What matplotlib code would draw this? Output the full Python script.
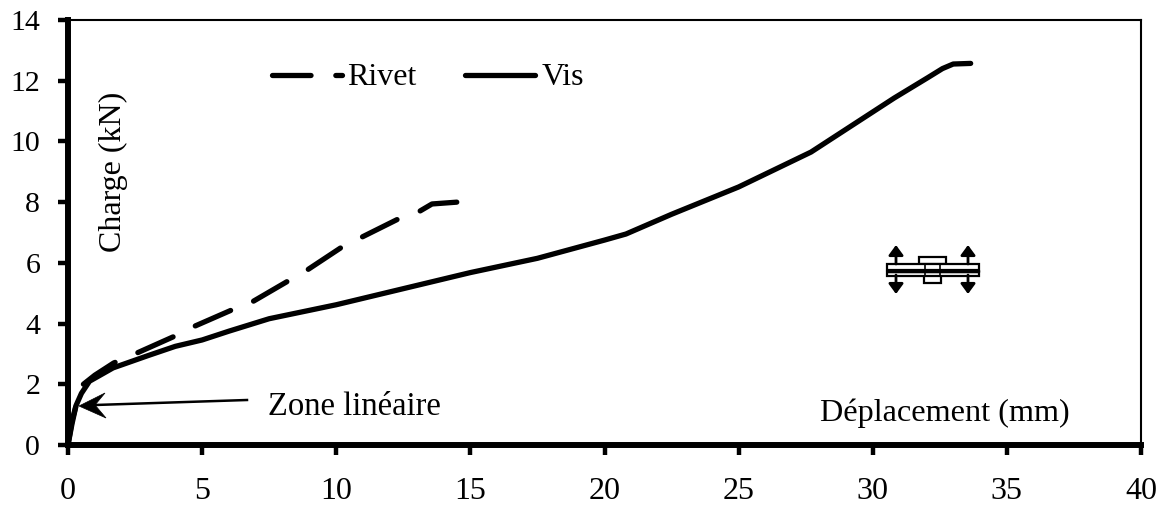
import matplotlib
matplotlib.use('Agg')
import matplotlib.pyplot as plt
from matplotlib.patches import Rectangle, Polygon, FancyArrowPatch
from matplotlib.transforms import Affine2D

WIDTH, HEIGHT = 1166, 508

vis_x = [0, 0.15, 0.3, 0.5, 0.8, 1.68, 3, 4, 5, 6, 7.5, 10, 12.5, 15, 17.5, 20, 20.8,
         22.5, 25, 26.55, 27.7, 30.8, 32.05, 32.6, 33, 33.65]
vis_y = [0, 0.7, 1.3, 1.7, 2.1, 2.54, 2.95, 3.25, 3.46, 3.75, 4.16, 4.62, 5.15, 5.68, 6.15,
         6.75, 6.95, 7.6, 8.5, 9.16, 9.65, 11.43, 12.1, 12.4, 12.55, 12.57]
rivet_x = [0, 0.15, 0.3, 0.5, 1, 1.7, 2.57, 3.99, 4.66, 6.11, 6.86, 8.2, 8.91, 10.21, 10.96,
           12.3, 13.05, 13.57, 14.5]
rivet_y = [0, 0.8, 1.3, 1.95, 2.3, 2.7, 3.03, 3.59, 3.89, 4.45, 4.71, 5.4, 5.76, 6.52, 6.85,
           7.44, 7.67, 7.94, 8.0]

x_ticks = [0, 5, 10, 15, 20, 25, 30, 35, 40]
y_ticks = [0, 2, 4, 6, 8, 10, 12, 14]

plt.rcParams['font.family'] = ['Liberation Serif', 'DejaVu Serif']

fig = plt.figure(figsize=(WIDTH / 100, HEIGHT / 100), dpi=100)
ax = fig.add_axes([68 / WIDTH, (HEIGHT - 445) / HEIGHT, (1141 - 68) / WIDTH, (445 - 20) / HEIGHT])

DASH = (7.3, 4.7)
ax.plot(rivet_x, rivet_y, color='black', lw=3.8, dashes=DASH, dash_capstyle='round')
ax.plot(vis_x, vis_y, color='black', lw=3.8, solid_capstyle='round')

ax.set_xlim(0, 40)
ax.set_ylim(0, 14)
ax.set_xticks(x_ticks)
ax.set_yticks(y_ticks)
ax.tick_params(axis='both', width=3.2, length=7, color='black')
ax.tick_params(axis='x', labelsize=23, pad=16)
ax.tick_params(axis='y', labelsize=21.5, pad=13)
ax.spines['left'].set_linewidth(4.3)
ax.spines['bottom'].set_linewidth(4.3)
ax.spines['top'].set_linewidth(1.5)
ax.spines['right'].set_linewidth(1.5)

ax.text(1.68, 9.0, 'Charge (kN)', rotation=90, fontsize=23, ha='center', va='center')
ax.text(7.47, 1.27, 'Zone linéaire', fontsize=23.5, ha='left', va='center')
ax.text(28.05, 1.03, 'Déplacement (mm)', fontsize=23.2, ha='left', va='center')

# legend drawn by hand to sit tight against the labels
ax.plot([7.6, 10.2], [12.2, 12.2], color='black', lw=3.8, dashes=DASH, dash_capstyle='round')
ax.text(10.4, 12.1, 'Rivet', fontsize=23, ha='left', va='center')
ax.plot([14.8, 17.4], [12.2, 12.2], color='black', lw=3.8, solid_capstyle='round')
ax.text(17.65, 12.1, 'Vis', fontsize=23, ha='left', va='center')

# image pixel coordinates for the arrow and the joint sketch
px = Affine2D().scale(1, -1).translate(0, HEIGHT)

ax.plot([247, 95], [400, 405], transform=px, color='black', lw=1.8)
fig.add_artist(Polygon([(79, 406), (105, 393), (95, 405), (106, 418)], closed=True,
                       transform=px, fc='black', ec='black', lw=0.5))


def rect(x0, y0, x1, y1, lw=1.6):
    fig.add_artist(Rectangle((x0, y0), x1 - x0, y1 - y0, transform=px, fc='white', ec='black', lw=lw))


rect(919, 257, 946, 264)
rect(924, 275, 941, 283)
rect(887, 264, 979, 269.5)
rect(887, 272, 979, 275.5)
fig.add_artist(Rectangle((887, 269.5), 92, 2.5, transform=px, fc='black', ec='black', lw=1))
fig.add_artist(Rectangle((925, 264), 15, 11.5, transform=px, fc='none', ec='black', lw=1.2))
for arrow_x in (896, 968):
    for y0, y1 in ((264, 245), (275, 294)):
        fig.add_artist(FancyArrowPatch((arrow_x, y0), (arrow_x, y1), transform=px,
                                       arrowstyle='-|>,head_length=3,head_width=2.2',
                                       mutation_scale=2.0, color='black', lw=2.0,
                                       shrinkA=0, shrinkB=0))

fig.savefig('out.png', dpi=100)
